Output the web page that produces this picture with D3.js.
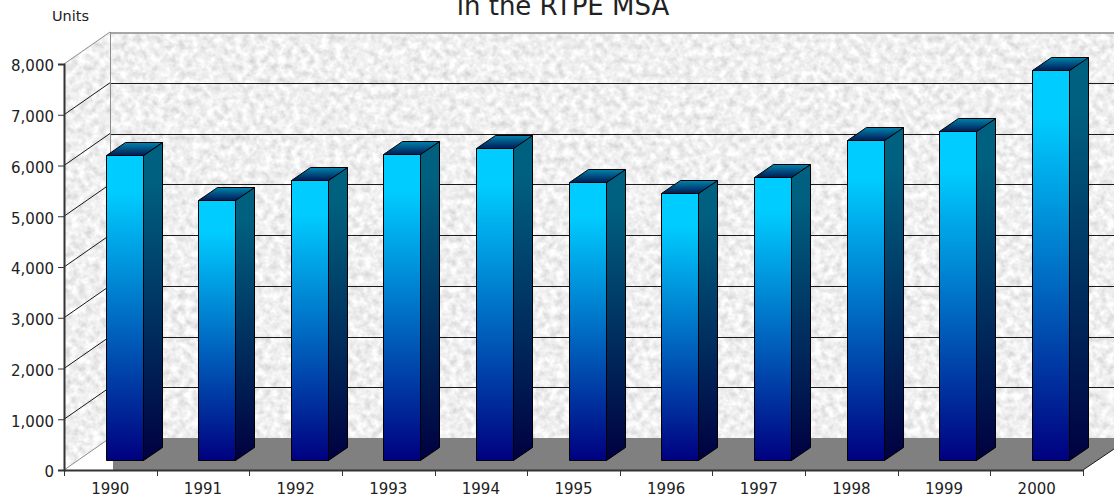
<!DOCTYPE html>
<html>
<head>
<meta charset="utf-8">
<script src="https://cdn.jsdelivr.net/npm/d3@7"></script>
<style>
  html, body { margin: 0; padding: 0; background: #fff; overflow: hidden; }
  text { font-family: "DejaVu Sans", sans-serif; fill: #222; }
</style>
</head>
<body>
<script>
var years = ["1990","1991","1992","1993","1994","1995","1996","1997","1998","1999","2000"];
var units = [6010,5125,5515,6030,6150,5480,5260,5575,6305,6485,7685];
var yTicks = [0,1000,2000,3000,4000,5000,6000,7000,8000];
var titleText = "in the RTPE MSA";
var yLabel = "Units";

var width = 1114, height = 499;
var plotL = 64, plotR = 1083, plotB = 470, plotT = 64;
// how far back the wall sits, and how far back the bars sit on the floor
var wallDx = 46, wallDy = -32;
var barInset = 42, barW = 37, barLift = 10, sideDx = 19, sideDy = -13;

var svg = d3.select("body").append("svg")
  .attr("width", width).attr("height", height)
  .style("display", "block");

var x = d3.scaleBand().domain(years).range([plotL, plotR]);
var y = d3.scaleLinear().domain([0, 8000]).range([plotB, plotT]);

var defs = svg.append("defs");

// stone texture for the walls
var stone = defs.append("filter").attr("id", "stone")
  .attr("filterUnits", "userSpaceOnUse")
  .attr("x", 0).attr("y", 0).attr("width", width).attr("height", height);
stone.append("feTurbulence")
  .attr("type", "fractalNoise").attr("baseFrequency", 0.14)
  .attr("numOctaves", 3).attr("seed", 7).attr("result", "n");
stone.append("feColorMatrix").attr("in", "n").attr("type", "matrix")
  .attr("values", "0.55 0 0 0 0.6  0.55 0 0 0 0.59  0.55 0 0 0 0.6  0 0 0 0 1")
  .attr("result", "c");
stone.append("feComposite").attr("in", "c").attr("in2", "SourceGraphic").attr("operator", "in");

function gradient(id, stops) {
  var g = defs.append("linearGradient").attr("id", id)
    .attr("x1", 0).attr("y1", 0).attr("x2", 0).attr("y2", 1);
  stops.forEach(function(s) {
    g.append("stop").attr("offset", s[0]).attr("stop-color", s[1]);
  });
}
gradient("front", [[0, "#00ccff"], [0.12, "#00ccff"], [1, "#000080"]]);
gradient("side", [[0, "#006080"], [0.12, "#006080"], [1, "#000040"]]);
gradient("lid", [[0, "#0084ad"], [1, "#001a55"]]);

var backLeft = plotL + wallDx;
var poly = function(pts) { return pts.map(function(p) { return p.join(","); }).join(" "); };

// walls
svg.append("polygon").attr("filter", "url(#stone)").attr("fill", "#000")
  .attr("points", poly([[backLeft, y(8000) + wallDy], [width, y(8000) + wallDy], [width, y(0) + wallDy], [backLeft, y(0) + wallDy]]));
svg.append("polygon").attr("filter", "url(#stone)").attr("fill", "#000")
  .attr("points", poly([[plotL, y(8000)], [backLeft, y(8000) + wallDy], [backLeft, y(0) + wallDy], [plotL, y(0)]]));

// floor
svg.append("polygon").attr("fill", "#808080")
  .attr("points", poly([[113, plotB], [113, y(0) + wallDy], [width, y(0) + wallDy], [width, plotB + wallDy + 11], [plotR, plotB]]));

// gridlines on left and back wall
var grid = svg.append("g").selectAll("g").data(yTicks.slice(1, -1)).enter().append("g")
  .attr("stroke", "#1a1a1a").attr("fill", "none");
grid.append("line")
  .attr("x1", plotL).attr("y1", function(d) { return y(d); })
  .attr("x2", backLeft).attr("y2", function(d) { return y(d) + wallDy; });
grid.append("line")
  .attr("x1", backLeft).attr("x2", width)
  .attr("y1", function(d) { return Math.round(y(d) + wallDy) + 0.5; })
  .attr("y2", function(d) { return Math.round(y(d) + wallDy) + 0.5; });

// grey edges of the walls
var edge = svg.append("g").attr("stroke", "#8c8c8c").attr("fill", "none");
edge.append("line").attr("x1", plotL).attr("y1", y(8000)).attr("x2", backLeft).attr("y2", y(8000) + wallDy);
edge.append("line").attr("x1", backLeft).attr("y1", y(8000) + wallDy + 1).attr("x2", width).attr("y2", y(8000) + wallDy + 1)
  .attr("stroke", "#a6a6a6").attr("stroke-width", 2);
edge.append("line").attr("x1", backLeft + 0.5).attr("y1", y(8000) + wallDy).attr("x2", backLeft + 0.5).attr("y2", y(0) + wallDy);
edge.append("line").attr("x1", plotL).attr("y1", y(0)).attr("x2", backLeft).attr("y2", y(0) + wallDy);
svg.append("line").attr("x1", plotR).attr("y1", plotB).attr("x2", width).attr("y2", plotB + wallDy + 11)
  .attr("stroke", "#1a1a1a");

// bars
var rows = years.map(function(d, i) { return { year: d, value: units[i] }; });
var bar = svg.append("g").selectAll("g").data(rows).enter().append("g")
  .attr("stroke", "#000").attr("stroke-width", 1).attr("stroke-linejoin", "round");
var bx = function(d) { return Math.floor(x(d.year) + barInset) + 0.5; };
var by = function(d) { return Math.round(y(d.value)) - barLift + 0.5; };
var bb = plotB - barLift + 0.5;

bar.append("polygon").attr("fill", "url(#side)").attr("points", function(d) {
  var r = bx(d) + barW;
  return poly([[r, by(d)], [r + sideDx, by(d) + sideDy], [r + sideDx, bb + sideDy], [r, bb]]);
});
bar.append("polygon").attr("fill", "url(#lid)").attr("points", function(d) {
  var l = bx(d), t = by(d);
  return poly([[l, t], [l + sideDx, t + sideDy], [l + barW + sideDx, t + sideDy], [l + barW, t]]);
});
bar.append("rect").attr("fill", "url(#front)")
  .attr("x", bx).attr("y", by).attr("width", barW)
  .attr("height", function(d) { return bb - by(d); });

// axes
var yAxis = svg.append("g").attr("transform", "translate(" + plotL + ",0)")
  .call(d3.axisLeft(y).tickValues(yTicks).tickFormat(d3.format(",")).tickSize(6).tickPadding(4));
var xAxis = svg.append("g").attr("transform", "translate(0," + plotB + ")")
  .call(d3.axisBottom(x).tickSize(0).tickPadding(13));
xAxis.selectAll(".tick line").remove();
svg.append("g").selectAll("line").data(years.concat(["end"])).enter().append("line")
  .attr("x1", function(d) { return Math.round(d === "end" ? plotR : x(d)) + 0.5; })
  .attr("x2", function(d) { return Math.round(d === "end" ? plotR : x(d)) + 0.5; })
  .attr("y1", plotB).attr("y2", plotB + 6).attr("stroke", "#333");

[yAxis, xAxis].forEach(function(a) {
  a.selectAll(".domain").attr("stroke", "#333").attr("stroke-width", 2);
  a.selectAll(".tick line").attr("stroke", "#333");
  a.selectAll("text").style("font-size", "15px").style("font-family", '"DejaVu Sans", sans-serif').attr("fill", "#222");
});
yAxis.selectAll("text").attr("y", 2);

svg.append("text").attr("x", 52).attr("y", 21).style("font-size", "14.5px").text(yLabel);
svg.append("text").attr("x", 563).attr("y", 15).attr("text-anchor", "middle").style("font-size", "26px").text(titleText);
</script>
</body>
</html>
